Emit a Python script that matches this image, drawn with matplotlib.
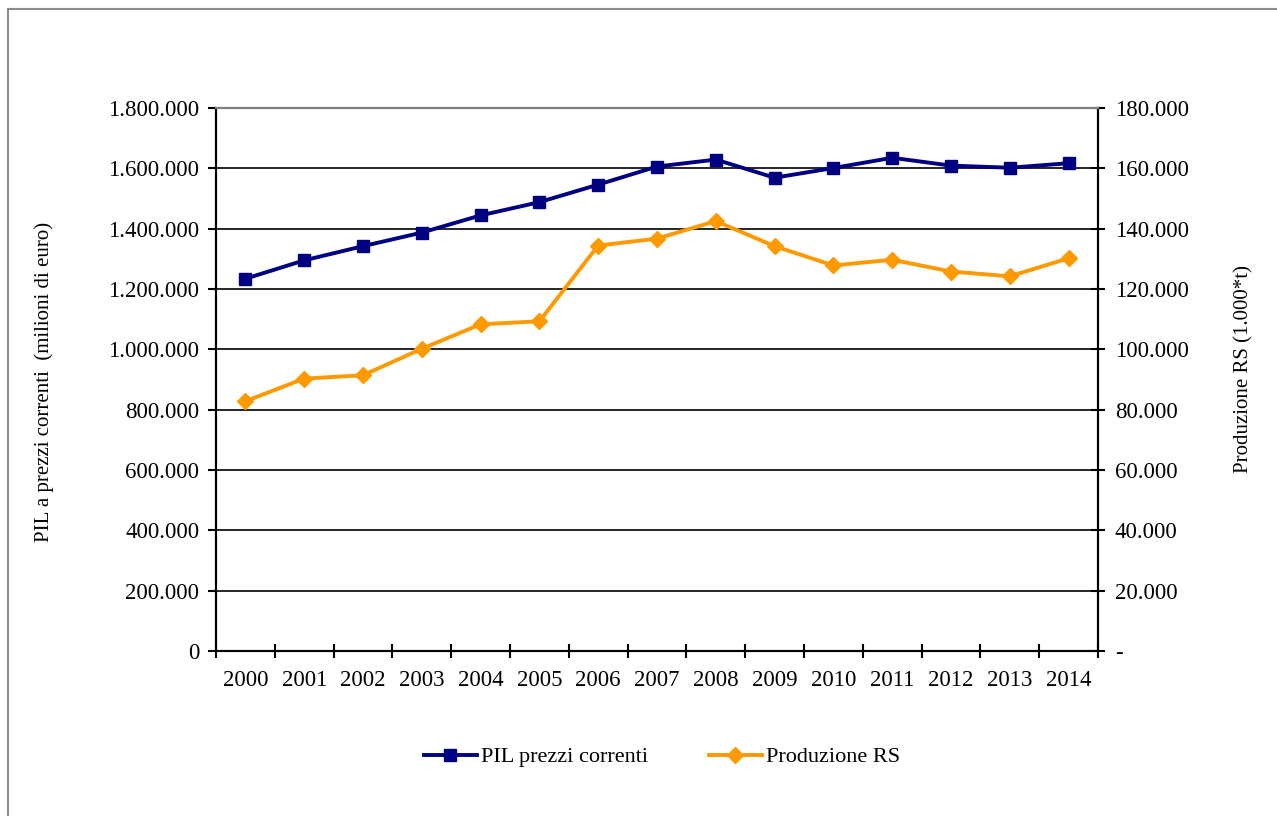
import numpy as np
import matplotlib.pyplot as plt
from matplotlib.patches import Rectangle

years = ["2000", "2001", "2002", "2003", "2004", "2005", "2006", "2007",
         "2008", "2009", "2010", "2011", "2012", "2013", "2014"]
pil = [1234000, 1295000, 1342000, 1387000, 1444000, 1488000, 1546000, 1606000,
       1629000, 1569000, 1601000, 1635000, 1609000, 1602000, 1617000]
prod_rs = [82800, 90300, 91400, 100200, 108300, 109300, 134400, 136700,
           142500, 134200, 127800, 129700, 125800, 124200, 130200]

left_ticks = [0, 200000, 400000, 600000, 800000, 1000000, 1200000, 1400000, 1600000, 1800000]
right_ticks = [0, 20000, 40000, 60000, 80000, 100000, 120000, 140000, 160000, 180000]

plt.rcParams['font.family'] = ['Liberation Serif', 'DejaVu Serif']
plt.rcParams['font.size'] = 16.5


def fmt_it(v, zero="0"):
    if v == 0:
        return zero
    return f"{v:,.0f}".replace(",", ".")


fig = plt.figure(figsize=(12.77, 8.16), dpi=100)
# chart area border
fig.patches.append(Rectangle((8 / 1277, -0.1), 1.2, 1.1 - 9 / 816,
                             transform=fig.transFigure, fill=False,
                             edgecolor="#8c8c8c", linewidth=1.5))

ax = fig.add_axes([216 / 1277, 1 - 651 / 816, (1098 - 216) / 1277, (651 - 108) / 816])
ax2 = ax.twinx()

x = np.arange(len(years))
l1, = ax.plot(x, pil, color="#000080", linewidth=2.8, marker="s", markersize=8,
              label="PIL prezzi correnti", zorder=4)
l2, = ax2.plot(x, prod_rs, color="#FF9900", linewidth=2.8, marker="D", markersize=8.5,
               label="Produzione RS", zorder=4)

ax.set_xlim(-0.5, len(years) - 0.5)
ax.set_ylim(0, 1800000)
ax2.set_ylim(0, 180000)

ax.set_yticks(left_ticks)
ax.set_yticklabels([fmt_it(v) for v in left_ticks])
ax2.set_yticks(right_ticks)
ax2.set_yticklabels([fmt_it(v, "-") for v in right_ticks])

ax.set_xticks(np.arange(-0.5, len(years), 1.0))
ax.set_xticklabels([])
ax.set_xticks(x, minor=True)
ax.set_xticklabels(years, minor=True)
ax.tick_params(axis="x", which="major", direction="inout", length=10, width=1.5)
ax.tick_params(axis="x", which="minor", length=0, pad=14)
ax.tick_params(axis="y", direction="out", length=6, width=1.5, pad=6)
ax2.tick_params(axis="y", direction="inout", length=10, width=1.5, pad=7)

ax.yaxis.grid(True, color="black", linewidth=1.2)
ax.set_axisbelow(True)

for a in (ax, ax2):
    a.spines["top"].set_color("#808080")
    a.spines["top"].set_linewidth(1.5)
    for s in ("left", "right", "bottom"):
        a.spines[s].set_linewidth(1.5)

ax.set_ylabel("PIL a prezzi correnti  (milioni di euro)", fontsize=15)
ax.yaxis.set_label_coords((54 - 216) / 882, 0.495)
ax2.set_ylabel("Produzione RS (1.000*t)", rotation=90, fontsize=15)
ax2.yaxis.set_label_coords((1234 - 216) / 882, 0.52)

fig.legend(handles=[l1, l2], loc="center", bbox_to_anchor=(662 / 1277, 1 - 757 / 816),
           ncol=2, frameon=False, fontsize=16, handlelength=2.4, columnspacing=2.7,
           handletextpad=0.2)

fig.savefig("out.png", dpi=100)
